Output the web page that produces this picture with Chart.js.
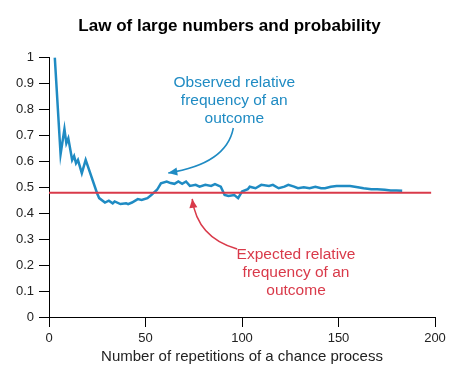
<!DOCTYPE html>
<html>
<head>
<meta charset="utf-8">
<script src="https://cdn.jsdelivr.net/npm/chart.js"></script>
<style>
  body { margin: 0; background: #fff; }
  #wrap { width: 459px; height: 376px; }
</style>
</head>
<body>
<div id="wrap"><canvas id="lawChart" width="459" height="376"></canvas></div>
<script>
// number of repetitions (x) and observed relative frequency
const trials = [3, 6, 8, 9, 10, 12, 13, 14, 15, 17, 19, 25, 26, 29, 31, 33, 34, 37, 40, 41,
  43, 46, 48, 51, 53, 56, 58, 61, 63, 65, 67, 69, 71, 73, 76, 78, 81, 84, 86, 89,
  91, 93, 96, 98, 100, 103, 104, 107, 110, 114, 116, 119, 122, 124, 127, 129, 132, 135, 138, 141,
  143, 146, 149, 156, 160, 163, 167, 170, 174, 177, 180, 183];
const observed = [1.0, 0.627, 0.724, 0.669, 0.688, 0.605, 0.62, 0.592, 0.605, 0.554, 0.605, 0.475, 0.458, 0.441, 0.448, 0.438, 0.445, 0.435, 0.438, 0.435,
  0.441, 0.454, 0.451, 0.458, 0.47, 0.49, 0.515, 0.522, 0.516, 0.513, 0.522, 0.513, 0.522, 0.505, 0.509, 0.502, 0.509, 0.505, 0.512, 0.502,
  0.47, 0.466, 0.47, 0.458, 0.483, 0.492, 0.502, 0.496, 0.509, 0.505, 0.509, 0.496, 0.502, 0.509, 0.502, 0.496, 0.5, 0.496, 0.502, 0.496,
  0.496, 0.502, 0.505, 0.505, 0.5, 0.496, 0.492, 0.492, 0.49, 0.487, 0.487, 0.486];

// expected relative frequency (flat line)
const expectedX = [0, 198];
const expectedValue = 0.479;

const xTicks = [0, 50, 100, 150, 200];
const blue = '#1f8bc3';
const red = '#d93a4a';
const fontFamily = "'Liberation Sans', Arial, sans-serif";

// annotation texts (in data units)
const observedNote = { x: 96, y: [0.902, 0.833, 0.764], lines: ['Observed relative', 'frequency of an', 'outcome'] };
const expectedNote = { x: 128, y: [0.238, 0.169, 0.100], lines: ['Expected relative', 'frequency of an', 'outcome'] };
// arrows: tail, control, tip (data units)
const observedArrow = [[95.5, 0.728], [92, 0.59], [61.8, 0.555]];
const expectedArrow = [[97.5, 0.262], [76.8, 0.305], [74.2, 0.455]];

function drawArrow(ctx, x, y, pts, color) {
  const p = pts.map(d => [x.getPixelForValue(d[0]), y.getPixelForValue(d[1])]);
  ctx.save();
  ctx.strokeStyle = color;
  ctx.fillStyle = color;
  ctx.lineWidth = 1.5;
  ctx.beginPath();
  ctx.moveTo(p[0][0], p[0][1]);
  ctx.quadraticCurveTo(p[1][0], p[1][1], p[2][0], p[2][1]);
  ctx.stroke();
  // arrow head
  const ang = Math.atan2(p[2][1] - p[1][1], p[2][0] - p[1][0]);
  const len = 9, half = 4;
  ctx.beginPath();
  ctx.moveTo(p[2][0], p[2][1]);
  ctx.lineTo(p[2][0] - len * Math.cos(ang) + half * Math.sin(ang), p[2][1] - len * Math.sin(ang) - half * Math.cos(ang));
  ctx.lineTo(p[2][0] - len * Math.cos(ang) - half * Math.sin(ang), p[2][1] - len * Math.sin(ang) + half * Math.cos(ang));
  ctx.closePath();
  ctx.fill();
  ctx.restore();
}

const notesPlugin = {
  id: 'notes',
  afterDraw(chart) {
    const { ctx } = chart;
    const x = chart.scales.x, y = chart.scales.y;
    ctx.save();
    ctx.font = '15.5px ' + fontFamily;
    ctx.textAlign = 'center';
    ctx.textBaseline = 'middle';
    [[observedNote, blue], [expectedNote, red]].forEach(([n, c]) => {
      ctx.fillStyle = c;
      n.lines.forEach((t, i) => ctx.fillText(t, x.getPixelForValue(n.x), y.getPixelForValue(n.y[i])));
    });
    ctx.restore();
    drawArrow(ctx, x, y, observedArrow, blue);
    drawArrow(ctx, x, y, expectedArrow, red);
  }
};

const ctx = document.getElementById('lawChart').getContext('2d');
new Chart(ctx, {
  type: 'line',
  data: {
    datasets: [
      {
        label: 'Expected',
        data: expectedX.map(v => ({ x: v, y: expectedValue })),
        borderColor: red,
        borderWidth: 2,
        pointRadius: 0,
        order: 0
      },
      {
        label: 'Observed',
        data: trials.map((t, i) => ({ x: t, y: observed[i] })),
        borderColor: blue,
        borderWidth: 2.5,
        pointRadius: 0,
        tension: 0,
        order: 1
      }
    ]
  },
  options: {
    responsive: false,
    animation: false,
    layout: { padding: 0 },
    plugins: {
      legend: { display: false },
      tooltip: { enabled: false },
      title: {
        display: true,
        text: 'Law of large numbers and probability',
        color: '#000',
        font: { family: fontFamily, size: 17, weight: 'bold' },
        padding: { top: 16, bottom: 21 }
      }
    },
    scales: {
      x: {
        type: 'linear',
        min: 0,
        max: 200,
        // fixed box so the plot area ends where the reference does
        afterFit: s => { s.height = 59; s.paddingRight = 24; },
        afterBuildTicks: s => { s.ticks = xTicks.map(v => ({ value: v })); },
        ticks: { color: '#222', padding: 4, font: { family: fontFamily, size: 13 } },
        grid: { drawOnChartArea: false, tickLength: 10, color: '#000' },
        border: { color: '#000' },
        title: {
          display: true,
          text: 'Number of repetitions of a chance process',
          color: '#222',
          font: { family: fontFamily, size: 15 },
          padding: { top: 0, bottom: 10 }
        }
      },
      y: {
        min: 0,
        max: 1,
        afterFit: s => { s.width = 49; },
        ticks: {
          stepSize: 0.1,
          color: '#222',
          padding: 5,
          font: { family: fontFamily, size: 13 },
          callback: v => String(Number(v.toFixed(1)))
        },
        grid: { drawOnChartArea: false, tickLength: 10, color: '#000' },
        border: { color: '#000' }
      }
    }
  },
  plugins: [notesPlugin]
});
</script>
</body>
</html>
